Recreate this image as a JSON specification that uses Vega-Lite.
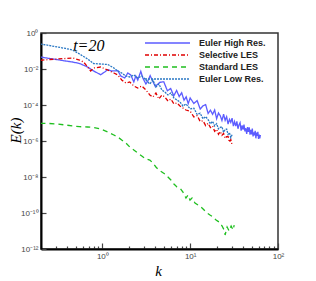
{
  "$schema": "https://vega.github.io/schema/vega-lite/v6.json",
  "width": 237,
  "height": 216,
  "autosize": "none",
  "padding": {"left": 41, "top": 33, "right": 38, "bottom": 32},
  "background": "white",
  "config": {
    "view": {"stroke": "#333333", "strokeWidth": 1.5},
    "axis": {"grid": false, "labelFont": "Liberation Sans", "labelFontSize": 8, "labelColor": "#444444", "domainColor": "#000000", "domainWidth": 2, "tickColor": "#444444", "tickWidth": 1.2, "titleFont": "Liberation Serif", "titleFontStyle": "italic", "titleFontWeight": "normal", "titleFontSize": 15, "titleColor": "#000000"}
  },
  "datasets": {
    "spec": [
      {"series": "Euler High Res.", "k": 0.197, "E": 4.64e-2},
      {"series": "Euler High Res.", "k": 0.250, "E": 3.83e-2},
      {"series": "Euler High Res.", "k": 0.308, "E": 3.29e-2},
      {"series": "Euler High Res.", "k": 0.381, "E": 2.78e-2},
      {"series": "Euler High Res.", "k": 0.458, "E": 2.45e-2},
      {"series": "Euler High Res.", "k": 0.550, "E": 2.02e-2},
      {"series": "Euler High Res.", "k": 0.679, "E": 1.29e-2},
      {"series": "Euler High Res.", "k": 0.795, "E": 7.74e-3},
      {"series": "Euler High Res.", "k": 0.956, "E": 4.82e-3},
      {"series": "Euler High Res.", "k": 1.062, "E": 6.81e-3},
      {"series": "Euler High Res.", "k": 1.150, "E": 9.14e-3},
      {"series": "Euler High Res.", "k": 1.277, "E": 7.74e-3},
      {"series": "Euler High Res.", "k": 1.500, "E": 8.05e-3},
      {"series": "Euler High Res.", "k": 1.619, "E": 4.08e-3},
      {"series": "Euler High Res.", "k": 1.798, "E": 3.16e-3},
      {"series": "Euler High Res.", "k": 1.946, "E": 6.0e-3},
      {"series": "Euler High Res.", "k": 2.106, "E": 4.64e-3},
      {"series": "Euler High Res.", "k": 2.280, "E": 1.90e-3},
      {"series": "Euler High Res.", "k": 2.402, "E": 4.08e-3},
      {"series": "Euler High Res.", "k": 2.530, "E": 2.45e-3},
      {"series": "Euler High Res.", "k": 2.740, "E": 7.45e-3},
      {"series": "Euler High Res.", "k": 2.888, "E": 3.16e-3},
      {"series": "Euler High Res.", "k": 3.130, "E": 1.47e-3},
      {"series": "Euler High Res.", "k": 3.294, "E": 2.15e-3},
      {"series": "Euler High Res.", "k": 3.5, "E": 4.27e-3},
      {"series": "Euler High Res.", "k": 4.0, "E": 1.08e-3},
      {"series": "Euler High Res.", "k": 4.5, "E": 1.81e-3},
      {"series": "Euler High Res.", "k": 5.0, "E": 1.96e-3},
      {"series": "Euler High Res.", "k": 5.5, "E": 6.15e-4},
      {"series": "Euler High Res.", "k": 6.0, "E": 8.20e-4},
      {"series": "Euler High Res.", "k": 6.5, "E": 3.22e-4},
      {"series": "Euler High Res.", "k": 7.0, "E": 6.41e-4},
      {"series": "Euler High Res.", "k": 7.5, "E": 2.96e-4},
      {"series": "Euler High Res.", "k": 8.0, "E": 4.81e-4},
      {"series": "Euler High Res.", "k": 8.5, "E": 1.85e-4},
      {"series": "Euler High Res.", "k": 9.0, "E": 2.84e-4},
      {"series": "Euler High Res.", "k": 9.5, "E": 1.19e-4},
      {"series": "Euler High Res.", "k": 10, "E": 2.45e-4},
      {"series": "Euler High Res.", "k": 11, "E": 1.22e-4},
      {"series": "Euler High Res.", "k": 12, "E": 1.75e-4},
      {"series": "Euler High Res.", "k": 13, "E": 5.96e-5},
      {"series": "Euler High Res.", "k": 14, "E": 9.02e-5},
      {"series": "Euler High Res.", "k": 15, "E": 1.05e-4},
      {"series": "Euler High Res.", "k": 16, "E": 3.39e-5},
      {"series": "Euler High Res.", "k": 17, "E": 5.18e-5},
      {"series": "Euler High Res.", "k": 18, "E": 3.03e-5},
      {"series": "Euler High Res.", "k": 19, "E": 5.28e-5},
      {"series": "Euler High Res.", "k": 20, "E": 1.73e-5},
      {"series": "Euler High Res.", "k": 21, "E": 3.58e-5},
      {"series": "Euler High Res.", "k": 22, "E": 2.54e-5},
      {"series": "Euler High Res.", "k": 23, "E": 1.37e-5},
      {"series": "Euler High Res.", "k": 24, "E": 3.08e-5},
      {"series": "Euler High Res.", "k": 25, "E": 1.40e-5},
      {"series": "Euler High Res.", "k": 26, "E": 2.25e-5},
      {"series": "Euler High Res.", "k": 27, "E": 8.73e-6},
      {"series": "Euler High Res.", "k": 28, "E": 1.59e-5},
      {"series": "Euler High Res.", "k": 29, "E": 1.08e-5},
      {"series": "Euler High Res.", "k": 30, "E": 1.85e-5},
      {"series": "Euler High Res.", "k": 31, "E": 6.78e-6},
      {"series": "Euler High Res.", "k": 32, "E": 1.19e-5},
      {"series": "Euler High Res.", "k": 33, "E": 6.67e-6},
      {"series": "Euler High Res.", "k": 34, "E": 1.23e-5},
      {"series": "Euler High Res.", "k": 35, "E": 4.79e-6},
      {"series": "Euler High Res.", "k": 36, "E": 7.93e-6},
      {"series": "Euler High Res.", "k": 37, "E": 1.04e-5},
      {"series": "Euler High Res.", "k": 38, "E": 3.72e-6},
      {"series": "Euler High Res.", "k": 39, "E": 7.28e-6},
      {"series": "Euler High Res.", "k": 40, "E": 4.32e-6},
      {"series": "Euler High Res.", "k": 41, "E": 8.09e-6},
      {"series": "Euler High Res.", "k": 42, "E": 3.40e-6},
      {"series": "Euler High Res.", "k": 43, "E": 5.08e-6},
      {"series": "Euler High Res.", "k": 44, "E": 2.46e-6},
      {"series": "Euler High Res.", "k": 45, "E": 5.85e-6},
      {"series": "Euler High Res.", "k": 46, "E": 3.18e-6},
      {"series": "Euler High Res.", "k": 47, "E": 5.75e-6},
      {"series": "Euler High Res.", "k": 48, "E": 2.28e-6},
      {"series": "Euler High Res.", "k": 49, "E": 4.11e-6},
      {"series": "Euler High Res.", "k": 50, "E": 2.36e-6},
      {"series": "Euler High Res.", "k": 51, "E": 4.91e-6},
      {"series": "Euler High Res.", "k": 52, "E": 1.78e-6},
      {"series": "Euler High Res.", "k": 53, "E": 3.01e-6},
      {"series": "Euler High Res.", "k": 54, "E": 2.04e-6},
      {"series": "Euler High Res.", "k": 55, "E": 3.71e-6},
      {"series": "Euler High Res.", "k": 56, "E": 1.41e-6},
      {"series": "Euler High Res.", "k": 57, "E": 2.95e-6},
      {"series": "Euler High Res.", "k": 58, "E": 1.91e-6},
      {"series": "Euler High Res.", "k": 59, "E": 3.26e-6},
      {"series": "Euler High Res.", "k": 60, "E": 1.30e-6},
      {"series": "Euler High Res.", "k": 61, "E": 2.28e-6},
      {"series": "Euler High Res.", "k": 62, "E": 1.38e-6},
      {"series": "Euler High Res.", "k": 63, "E": 2.20e-6},

      {"series": "Selective LES", "k": 0.197, "E": 3.04e-2},
      {"series": "Selective LES", "k": 0.250, "E": 3.37e-2},
      {"series": "Selective LES", "k": 0.308, "E": 3.60e-2},
      {"series": "Selective LES", "k": 0.381, "E": 3.83e-2},
      {"series": "Selective LES", "k": 0.458, "E": 4.08e-2},
      {"series": "Selective LES", "k": 0.550, "E": 3.16e-2},
      {"series": "Selective LES", "k": 0.611, "E": 2.45e-2},
      {"series": "Selective LES", "k": 0.679, "E": 1.29e-2},
      {"series": "Selective LES", "k": 0.735, "E": 7.74e-3},
      {"series": "Selective LES", "k": 0.795, "E": 1.14e-2},
      {"series": "Selective LES", "k": 0.956, "E": 1.29e-2},
      {"series": "Selective LES", "k": 1.150, "E": 8.79e-3},
      {"series": "Selective LES", "k": 1.350, "E": 6.0e-3},
      {"series": "Selective LES", "k": 1.500, "E": 4.64e-3},
      {"series": "Selective LES", "k": 1.660, "E": 2.45e-3},
      {"series": "Selective LES", "k": 1.850, "E": 1.67e-3},
      {"series": "Selective LES", "k": 2.050, "E": 1.90e-3},
      {"series": "Selective LES", "k": 2.280, "E": 1.14e-3},
      {"series": "Selective LES", "k": 2.530, "E": 8.79e-4},
      {"series": "Selective LES", "k": 2.810, "E": 1.14e-3},
      {"series": "Selective LES", "k": 3.130, "E": 6.81e-4},
      {"series": "Selective LES", "k": 3.470, "E": 3.60e-4},
      {"series": "Selective LES", "k": 3.760, "E": 2.78e-4},
      {"series": "Selective LES", "k": 4.070, "E": 4.64e-4},
      {"series": "Selective LES", "k": 4.400, "E": 2.15e-4},
      {"series": "Selective LES", "k": 4.760, "E": 3.60e-4},
      {"series": "Selective LES", "k": 5.150, "E": 2.78e-4},
      {"series": "Selective LES", "k": 5.580, "E": 1.67e-4},
      {"series": "Selective LES", "k": 6.030, "E": 2.15e-4},
      {"series": "Selective LES", "k": 6.530, "E": 1.14e-4},
      {"series": "Selective LES", "k": 7.070, "E": 1.29e-4},
      {"series": "Selective LES", "k": 7.650, "E": 8.79e-5},
      {"series": "Selective LES", "k": 8.270, "E": 6.81e-5},
      {"series": "Selective LES", "k": 8.950, "E": 5.27e-5},
      {"series": "Selective LES", "k": 10, "E": 4.53e-5},
      {"series": "Selective LES", "k": 11, "E": 2.19e-5},
      {"series": "Selective LES", "k": 12, "E": 2.60e-5},
      {"series": "Selective LES", "k": 13, "E": 1.20e-5},
      {"series": "Selective LES", "k": 14, "E": 1.33e-5},
      {"series": "Selective LES", "k": 15, "E": 7.16e-6},
      {"series": "Selective LES", "k": 16, "E": 9.62e-6},
      {"series": "Selective LES", "k": 17, "E": 5.57e-6},
      {"series": "Selective LES", "k": 18, "E": 6.82e-6},
      {"series": "Selective LES", "k": 19, "E": 3.44e-6},
      {"series": "Selective LES", "k": 20, "E": 4.40e-6},
      {"series": "Selective LES", "k": 21, "E": 2.36e-6},
      {"series": "Selective LES", "k": 22, "E": 3.36e-6},
      {"series": "Selective LES", "k": 23, "E": 2.06e-6},
      {"series": "Selective LES", "k": 24, "E": 2.64e-6},
      {"series": "Selective LES", "k": 25, "E": 1.39e-6},
      {"series": "Selective LES", "k": 26, "E": 1.73e-6},
      {"series": "Selective LES", "k": 27, "E": 1.79e-6},
      {"series": "Selective LES", "k": 28, "E": 8.51e-7},
      {"series": "Selective LES", "k": 29, "E": 1.20e-6},
      {"series": "Selective LES", "k": 30, "E": 6.05e-7},

      {"series": "Standard LES", "k": 0.197, "E": 9.62e-6},
      {"series": "Standard LES", "k": 0.250, "E": 9.38e-6},
      {"series": "Standard LES", "k": 0.308, "E": 8.79e-6},
      {"series": "Standard LES", "k": 0.381, "E": 7.74e-6},
      {"series": "Standard LES", "k": 0.458, "E": 6.81e-6},
      {"series": "Standard LES", "k": 0.550, "E": 6.22e-6},
      {"series": "Standard LES", "k": 0.679, "E": 6.0e-6},
      {"series": "Standard LES", "k": 0.795, "E": 5.62e-6},
      {"series": "Standard LES", "k": 0.956, "E": 4.64e-6},
      {"series": "Standard LES", "k": 1.150, "E": 3.16e-6},
      {"series": "Standard LES", "k": 1.350, "E": 2.15e-6},
      {"series": "Standard LES", "k": 1.500, "E": 1.67e-6},
      {"series": "Standard LES", "k": 1.660, "E": 1.14e-6},
      {"series": "Standard LES", "k": 1.850, "E": 7.74e-7},
      {"series": "Standard LES", "k": 2.050, "E": 4.64e-7},
      {"series": "Standard LES", "k": 2.280, "E": 3.16e-7},
      {"series": "Standard LES", "k": 2.530, "E": 2.15e-7},
      {"series": "Standard LES", "k": 2.810, "E": 1.47e-7},
      {"series": "Standard LES", "k": 3.130, "E": 1.0e-7},
      {"series": "Standard LES", "k": 3.470, "E": 8.79e-8},
      {"series": "Standard LES", "k": 3.760, "E": 6.0e-8},
      {"series": "Standard LES", "k": 4.070, "E": 3.60e-8},
      {"series": "Standard LES", "k": 4.400, "E": 2.45e-8},
      {"series": "Standard LES", "k": 4.760, "E": 1.90e-8},
      {"series": "Standard LES", "k": 5.150, "E": 1.47e-8},
      {"series": "Standard LES", "k": 5.580, "E": 1.0e-8},
      {"series": "Standard LES", "k": 6.030, "E": 6.81e-9},
      {"series": "Standard LES", "k": 6.530, "E": 4.08e-9},
      {"series": "Standard LES", "k": 7.070, "E": 2.78e-9},
      {"series": "Standard LES", "k": 7.650, "E": 2.45e-9},
      {"series": "Standard LES", "k": 8.270, "E": 1.47e-9},
      {"series": "Standard LES", "k": 8.950, "E": 6.81e-10},
      {"series": "Standard LES", "k": 9.440, "E": 1.0e-9},
      {"series": "Standard LES", "k": 9.950, "E": 5.27e-10},
      {"series": "Standard LES", "k": 10.50, "E": 6.81e-10},
      {"series": "Standard LES", "k": 11.34, "E": 3.60e-10},
      {"series": "Standard LES", "k": 12.30, "E": 2.78e-10},
      {"series": "Standard LES", "k": 13.29, "E": 2.15e-10},
      {"series": "Standard LES", "k": 14.40, "E": 1.47e-10},
      {"series": "Standard LES", "k": 15.56, "E": 1.0e-10},
      {"series": "Standard LES", "k": 16.80, "E": 7.74e-11},
      {"series": "Standard LES", "k": 18.22, "E": 6.0e-11},
      {"series": "Standard LES", "k": 19.70, "E": 4.08e-11},
      {"series": "Standard LES", "k": 21.33, "E": 3.16e-11},
      {"series": "Standard LES", "k": 23.10, "E": 1.90e-11},
      {"series": "Standard LES", "k": 24.33, "E": 1.14e-11},
      {"series": "Standard LES", "k": 24.99, "E": 6.0e-12},
      {"series": "Standard LES", "k": 26.34, "E": 1.67e-11},
      {"series": "Standard LES", "k": 27.76, "E": 1.0e-11},
      {"series": "Standard LES", "k": 29.26, "E": 1.90e-11},
      {"series": "Standard LES", "k": 30.84, "E": 1.14e-11},
      {"series": "Standard LES", "k": 31.70, "E": 2.15e-11},

      {"series": "Euler Low Res.", "k": 0.197, "E": 2.45e-1},
      {"series": "Euler Low Res.", "k": 0.250, "E": 2.02e-1},
      {"series": "Euler Low Res.", "k": 0.308, "E": 1.67e-1},
      {"series": "Euler Low Res.", "k": 0.381, "E": 1.38e-1},
      {"series": "Euler Low Res.", "k": 0.458, "E": 1.14e-1},
      {"series": "Euler Low Res.", "k": 0.550, "E": 6.81e-2},
      {"series": "Euler Low Res.", "k": 0.679, "E": 3.60e-2},
      {"series": "Euler Low Res.", "k": 0.795, "E": 2.02e-2},
      {"series": "Euler Low Res.", "k": 0.956, "E": 1.90e-2},
      {"series": "Euler Low Res.", "k": 1.150, "E": 1.78e-2},
      {"series": "Euler Low Res.", "k": 1.350, "E": 1.14e-2},
      {"series": "Euler Low Res.", "k": 1.500, "E": 7.74e-3},
      {"series": "Euler Low Res.", "k": 1.660, "E": 6.0e-3},
      {"series": "Euler Low Res.", "k": 1.850, "E": 4.08e-3},
      {"series": "Euler Low Res.", "k": 2.050, "E": 3.60e-3},
      {"series": "Euler Low Res.", "k": 2.280, "E": 4.64e-3},
      {"series": "Euler Low Res.", "k": 2.530, "E": 3.16e-3},
      {"series": "Euler Low Res.", "k": 2.810, "E": 4.08e-3},
      {"series": "Euler Low Res.", "k": 3.130, "E": 2.45e-3},
      {"series": "Euler Low Res.", "k": 3.470, "E": 1.47e-3},
      {"series": "Euler Low Res.", "k": 3.760, "E": 2.45e-3},
      {"series": "Euler Low Res.", "k": 4.070, "E": 1.0e-3},
      {"series": "Euler Low Res.", "k": 4.400, "E": 1.47e-3},
      {"series": "Euler Low Res.", "k": 4.760, "E": 6.81e-4},
      {"series": "Euler Low Res.", "k": 5.150, "E": 5.27e-4},
      {"series": "Euler Low Res.", "k": 5.580, "E": 3.60e-4},
      {"series": "Euler Low Res.", "k": 6.030, "E": 4.64e-4},
      {"series": "Euler Low Res.", "k": 6.530, "E": 2.45e-4},
      {"series": "Euler Low Res.", "k": 7.070, "E": 1.90e-4},
      {"series": "Euler Low Res.", "k": 7.650, "E": 1.47e-4},
      {"series": "Euler Low Res.", "k": 8.270, "E": 8.79e-5},
      {"series": "Euler Low Res.", "k": 8.950, "E": 1.14e-4},
      {"series": "Euler Low Res.", "k": 10, "E": 6.11e-5},
      {"series": "Euler Low Res.", "k": 11, "E": 6.61e-5},
      {"series": "Euler Low Res.", "k": 12, "E": 2.99e-5},
      {"series": "Euler Low Res.", "k": 13, "E": 3.47e-5},
      {"series": "Euler Low Res.", "k": 14, "E": 1.71e-5},
      {"series": "Euler Low Res.", "k": 15, "E": 2.26e-5},
      {"series": "Euler Low Res.", "k": 16, "E": 1.52e-5},
      {"series": "Euler Low Res.", "k": 17, "E": 9.04e-6},
      {"series": "Euler Low Res.", "k": 18, "E": 1.24e-5},
      {"series": "Euler Low Res.", "k": 19, "E": 6.85e-6},
      {"series": "Euler Low Res.", "k": 20, "E": 9.18e-6},
      {"series": "Euler Low Res.", "k": 21, "E": 4.71e-6},
      {"series": "Euler Low Res.", "k": 22, "E": 5.70e-6},
      {"series": "Euler Low Res.", "k": 23, "E": 6.21e-6},
      {"series": "Euler Low Res.", "k": 24, "E": 3.03e-6},
      {"series": "Euler Low Res.", "k": 25, "E": 4.40e-6},
      {"series": "Euler Low Res.", "k": 26, "E": 4.65e-6},
      {"series": "Euler Low Res.", "k": 27, "E": 2.31e-6},
      {"series": "Euler Low Res.", "k": 28, "E": 2.88e-6},
      {"series": "Euler Low Res.", "k": 29, "E": 1.55e-6},
      {"series": "Euler Low Res.", "k": 30, "E": 2.20e-6}
    ],
    "note": [
      {"k": 0.7, "E": 0.2, "label": "t=20"}
    ]
  },
  "layer": [
    {
      "data": {"name": "spec"},
      "mark": {"type": "line", "strokeWidth": 1.3, "clip": true},
      "encoding": {
        "x": {
          "field": "k", "type": "quantitative",
          "scale": {"type": "log", "domain": [0.2, 100], "nice": false},
          "axis": {
            "title": "k",
            "values": [0.2,0.3,0.4,0.5,0.6,0.7,0.8,0.9,1,2,3,4,5,6,7,8,9,10,20,30,40,50,60,70,80,90,100],
            "labelExpr": "datum.value == 1 ? '10⁰' : datum.value == 10 ? '10¹' : datum.value == 100 ? '10²' : ''",
            "labelOverlap": false,
            "labelBound": false,
            "labelFlush": false,
            "labelPadding": 9,
            "tickSize": {"condition": {"test": "datum.value == 1 || datum.value == 10 || datum.value == 100", "value": -6}, "value": -3},
            "titleX": 117,
            "titleY": 21,
            "titleBaseline": "middle",
            "titleAnchor": "middle"
          }
        },
        "y": {
          "field": "E", "type": "quantitative",
          "scale": {"type": "log", "domain": [1e-12, 1], "nice": false},
          "axis": {
            "title": "E(k)",
            "values": [1e-12, 1e-10, 1e-8, 1e-6, 1e-4, 1e-2, 1],
            "labelExpr": "datum.value >= 0.5 ? '10⁰' : datum.value >= 5e-3 ? '10⁻²' : datum.value >= 5e-5 ? '10⁻⁴' : datum.value >= 5e-7 ? '10⁻⁶' : datum.value >= 5e-9 ? '10⁻⁸' : datum.value >= 5e-11 ? '10⁻¹⁰' : '10⁻¹²'",
            "labelOverlap": false,
            "labelBound": false,
            "labelFlush": false,
            "labelPadding": 8,
            "tickSize": -5,
            "titleX": -26,
            "titleY": 97,
            "titleBaseline": "middle",
            "titleAngle": -90
          }
        },
        "color": {
          "field": "series", "type": "nominal",
          "scale": {"domain": ["Euler High Res.", "Selective LES", "Standard LES", "Euler Low Res."], "range": ["#5c5cff", "#e00000", "#1fbf1f", "#2a78c4"]},
          "legend": {
            "title": null,
            "orient": "none",
            "legendX": 103,
            "legendY": 5,
            "symbolType": "stroke",
            "symbolSize": 2025,
            "symbolStrokeWidth": 1.5,
            "labelFont": "Liberation Sans",
            "labelFontWeight": "bold",
            "labelFontSize": 9,
            "labelColor": "#222222",
            "clipHeight": 10,
            "rowPadding": 2,
            "labelOffset": 8
          }
        },
        "strokeDash": {
          "field": "series", "type": "nominal",
          "scale": {"domain": ["Euler High Res.", "Selective LES", "Standard LES", "Euler Low Res."], "range": [[1, 0], [4, 2, 1, 2], [5, 4], [2, 1]]},
          "legend": {
            "title": null,
            "orient": "none",
            "legendX": 103,
            "legendY": 5,
            "symbolType": "stroke",
            "symbolSize": 2025,
            "symbolStrokeWidth": 1.5,
            "labelFont": "Liberation Sans",
            "labelFontWeight": "bold",
            "labelFontSize": 9,
            "labelColor": "#222222",
            "clipHeight": 10,
            "rowPadding": 2,
            "labelOffset": 8
          }
        }
      }
    },
    {
      "data": {"name": "note"},
      "mark": {"type": "text", "font": "Liberation Serif", "fontStyle": "italic", "fontSize": 16, "color": "#000000", "align": "center", "baseline": "middle"},
      "encoding": {
        "x": {"field": "k", "type": "quantitative"},
        "y": {"field": "E", "type": "quantitative"},
        "text": {"field": "label"}
      }
    }
  ]
}
